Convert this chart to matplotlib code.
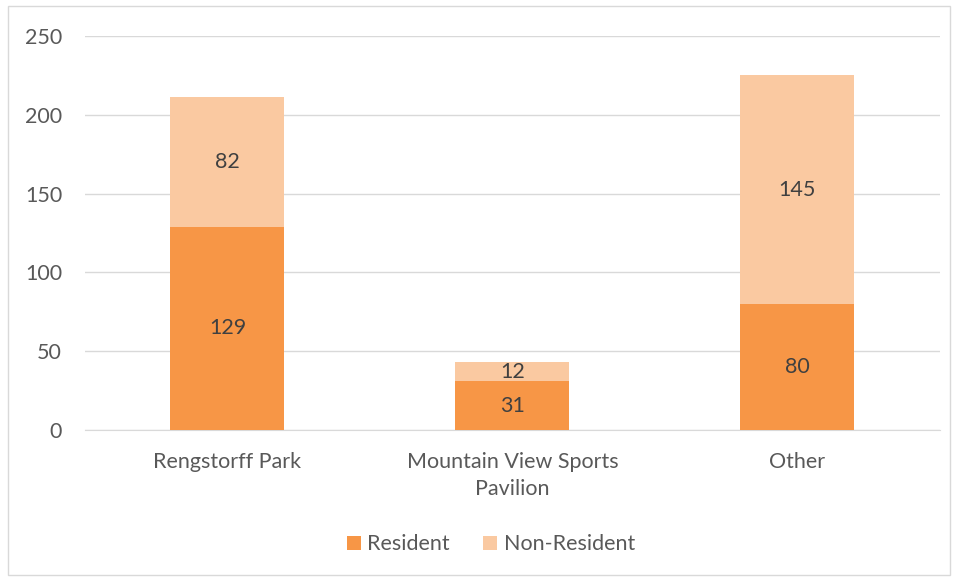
import numpy as np
import matplotlib.pyplot as plt
from matplotlib.patches import Rectangle

plt.rcParams['font.family'] = ['Lato', 'DejaVu Sans']

categories = ['Rengstorff Park', 'Mountain View Sports\nPavilion', 'Other']
resident = [129, 31, 80]
non_resident = [82, 12, 145]

c_res = '#F79646'
c_non = '#FAC9A1'
txt = '#595959'
fs = 15.5

fig = plt.figure(figsize=(9.59, 5.79), dpi=100)
fig.patches.append(Rectangle((8 / 959, 4 / 579), 942 / 959, 569 / 579,
                             transform=fig.transFigure, fill=False,
                             edgecolor='#d9d9d9', linewidth=1))
ax = fig.add_axes([0.0886, 0.2573, 0.8915, 0.6805])

x = np.arange(len(categories))
b1 = ax.bar(x, resident, width=0.4, color=c_res, zorder=3)
b2 = ax.bar(x, non_resident, width=0.4, bottom=resident, color=c_non, zorder=3)
ax.bar_label(b1, label_type='center', color='#404040', fontsize=fs)
ax.bar_label(b2, label_type='center', color='#404040', fontsize=fs)

ax.set_xlim(-0.5, 2.5)
ax.set_ylim(0, 250)
ax.set_yticks(range(0, 251, 50))
ax.set_xticks(x)
ax.set_xticklabels(categories, linespacing=1.45)
ax.grid(axis='y', color='#d9d9d9', linewidth=1, zorder=0)
for s in ['top', 'right', 'left']:
    ax.spines[s].set_visible(False)
ax.spines['bottom'].set_color('#d9d9d9')
ax.tick_params(axis='both', length=0, colors=txt, labelsize=fs)
ax.tick_params(axis='y', pad=16.5)
ax.tick_params(axis='x', pad=16)

fig.legend([b1, b2], ['Resident', 'Non-Resident'], loc='center',
           bbox_to_anchor=(0.512, 0.06), ncol=2, frameon=False,
           fontsize=fs, labelcolor=txt, handlelength=0.65,
           handleheight=0.65, handletextpad=0.3, columnspacing=1.55)

fig.savefig('out.png', dpi=100)
